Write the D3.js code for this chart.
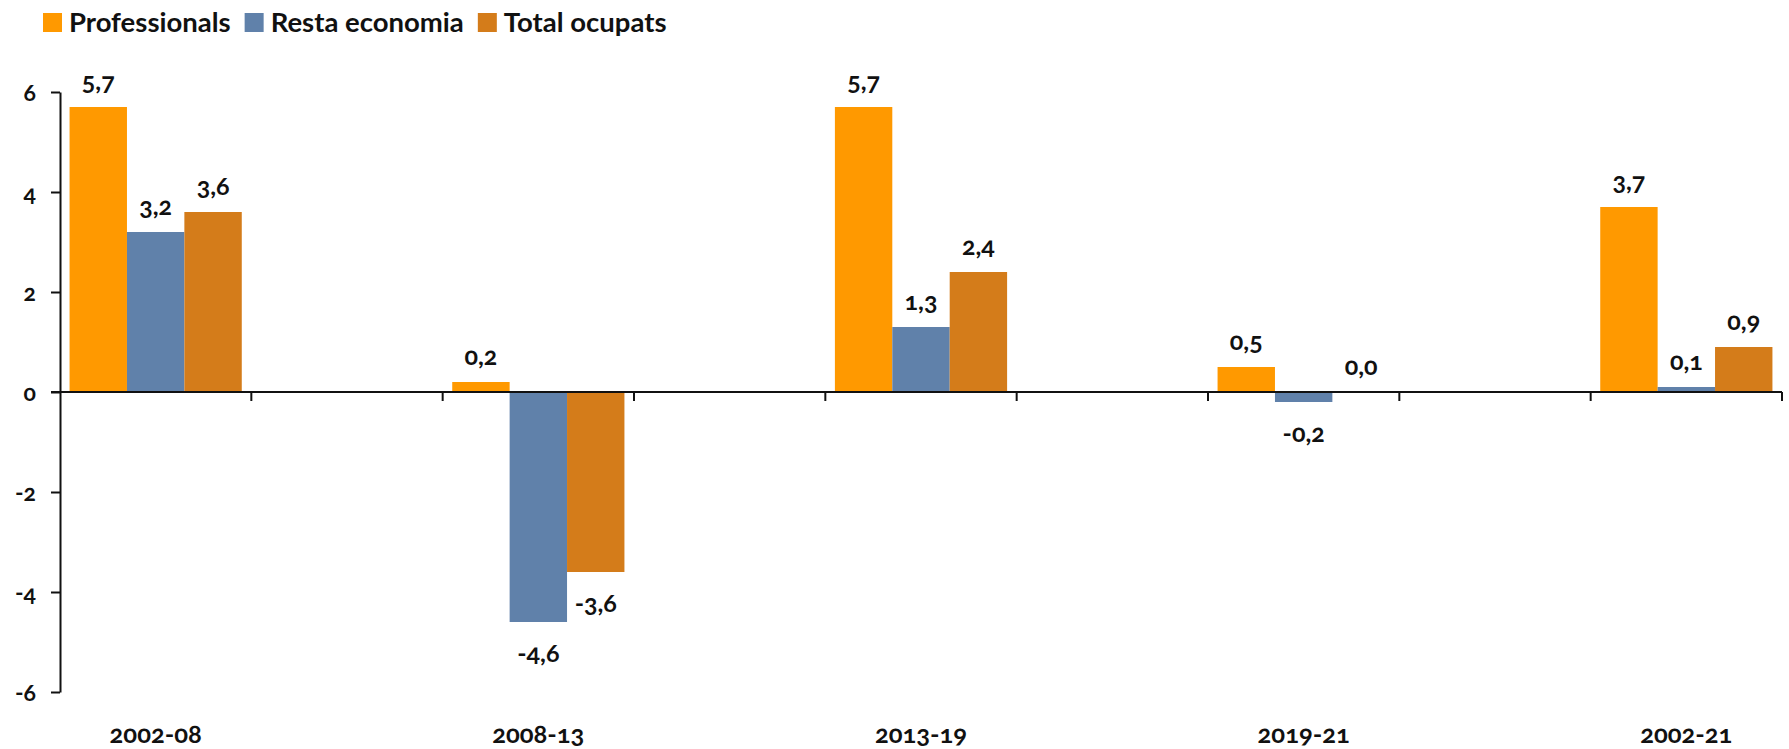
<!DOCTYPE html>
<html>
<head>
<meta charset="utf-8">
<script src="https://cdn.jsdelivr.net/npm/d3@7"></script>
<style>
  body { margin: 0; background: #fff; }
  text { font-family: Lato, "Open Sans", sans-serif; font-weight: bold; fill: #111;
         font-variant-numeric: oldstyle-nums; }
</style>
</head>
<body>
<script>
// chart data
var categories = ["2002-08", "2008-13", "2013-19", "2019-21", "2002-21"];
var seriesNames = ["Professionals", "Resta economia", "Total ocupats"];
var professionals = [5.7, 0.2, 5.7, 0.5, 3.7];
var restaEconomia = [3.2, -4.6, 1.3, -0.2, 0.1];
var totalOcupats = [3.6, -3.6, 2.4, 0.0, 0.9];
var yTicks = [-6, -4, -2, 0, 2, 4, 6];
var colors = ["#ff9900", "#6081aa", "#d47c1a"];

var allSeries = [professionals, restaEconomia, totalOcupats];

var width = 1789, height = 749;
var plotLeft = 60, plotRight = 1782, plotTop = 92, plotBottom = 692;

var loc = d3.formatLocale({decimal: ",", thousands: ".", grouping: [3], currency: ["", "€"], minus: "-"});
var fmtLabel = loc.format(".1f");
var fmtTick = loc.format("d");

var svg = d3.select("body").append("svg")
  .attr("width", width)
  .attr("height", height);

var x0 = d3.scaleBand().domain(categories).range([plotLeft, plotRight])
  .paddingInner(0.55).paddingOuter(0.025);
var x1 = d3.scaleBand().domain(seriesNames).range([0, x0.bandwidth()]);
var y = d3.scaleLinear().domain([-6, 6]).range([plotBottom, plotTop]);

// rows: one per category with each series value
var rows = categories.map(function(c, i) {
  return seriesNames.map(function(s, j) {
    return {cat: c, series: s, idx: j, value: allSeries[j][i]};
  });
});

// bars
var groups = svg.selectAll("g.group").data(rows).enter()
  .append("g").attr("class", "group")
  .attr("transform", function(d) { return "translate(" + x0(d[0].cat) + ",0)"; });

groups.selectAll("rect").data(function(d) { return d; }).enter()
  .append("rect")
  .attr("x", function(d) { return x1(d.series); })
  .attr("y", function(d) { return y(Math.max(0, d.value)); })
  .attr("width", x1.bandwidth())
  .attr("height", function(d) { return Math.abs(y(d.value) - y(0)); })
  .attr("fill", function(d) { return colors[d.idx]; });

groups.selectAll("text").data(function(d) { return d; }).enter()
  .append("text")
  .attr("x", function(d) { return x1(d.series) + x1.bandwidth() / 2; })
  .attr("y", function(d) { return d.value >= 0 ? y(d.value) - 17 : y(d.value) + 40; })
  .attr("text-anchor", "middle")
  .style("font-size", "25px")
  .text(function(d) { return fmtLabel(d.value); });

// y axis
var yAxis = svg.append("g")
  .attr("transform", "translate(" + plotLeft + ",0)")
  .call(d3.axisLeft(y).tickValues(yTicks).tickSize(9).tickSizeOuter(0).tickPadding(15).tickFormat(fmtTick));
yAxis.select(".domain").attr("stroke", "#111").attr("stroke-width", 2);
yAxis.selectAll(".tick line").attr("stroke", "#111").attr("stroke-width", 2);
yAxis.selectAll(".tick text").attr("dy", "0.36em").style("font-size", "23px").attr("fill", "#111");

// zero line and category ticks
svg.append("line")
  .attr("x1", plotLeft - 9).attr("x2", plotRight)
  .attr("y1", y(0)).attr("y2", y(0))
  .attr("stroke", "#111").attr("stroke-width", 2);

var step = x0.step();
var tickXs = [];
categories.forEach(function(c, i) {
  var cx = x0(c) + x0.bandwidth() / 2;
  if (i > 0) tickXs.push(cx - step / 4);
  tickXs.push(cx + step / 4);
});
svg.selectAll("line.cattick").data(tickXs).enter()
  .append("line").attr("class", "cattick")
  .attr("x1", function(d) { return d; }).attr("x2", function(d) { return d; })
  .attr("y1", y(0)).attr("y2", y(0) + 9)
  .attr("stroke", "#111").attr("stroke-width", 2);

// category labels
svg.selectAll("text.cat").data(categories).enter()
  .append("text").attr("class", "cat")
  .attr("x", function(d) { return x0(d) + x0.bandwidth() / 2; })
  .attr("y", 743)
  .attr("text-anchor", "middle")
  .style("font-size", "25.5px")
  .text(function(d) { return d; });

// legend
var lx = 43;
seriesNames.forEach(function(s, i) {
  svg.append("rect").attr("x", lx).attr("y", 13).attr("width", 19).attr("height", 19)
    .attr("fill", colors[i]);
  var t = svg.append("text").attr("x", lx + 26).attr("y", 31.5)
    .style("font-size", "27.5px").text(s);
  lx = lx + 26 + t.node().getComputedTextLength() + 14;
});
</script>
</body>
</html>
